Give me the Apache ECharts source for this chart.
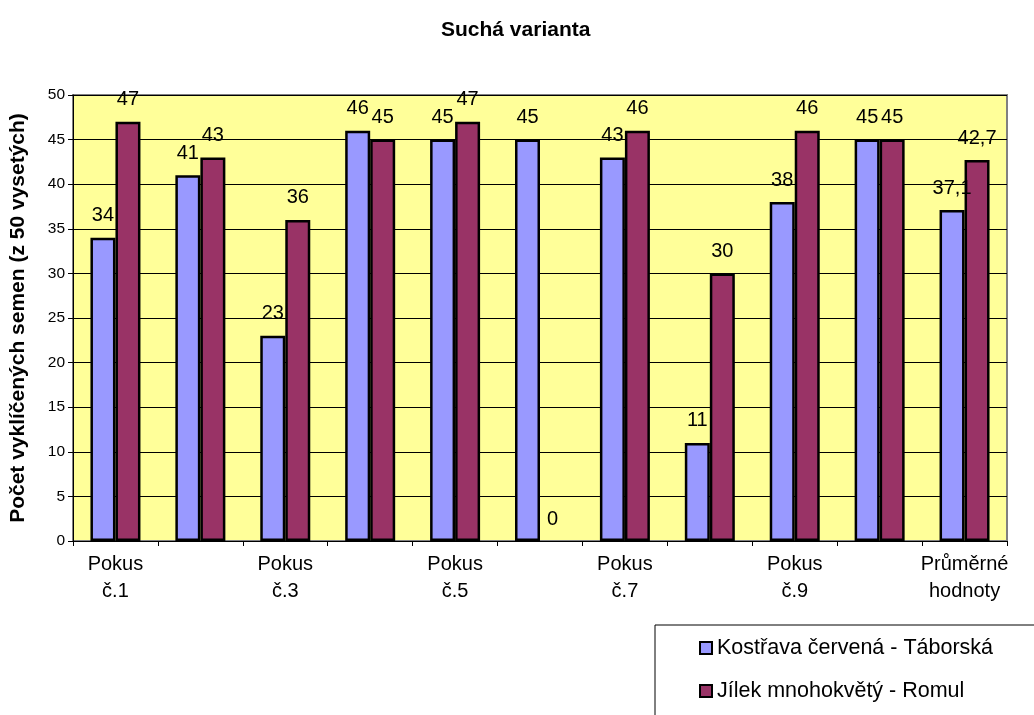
<!DOCTYPE html>
<html>
<head>
<meta charset="utf-8">
<script src="https://cdn.jsdelivr.net/npm/echarts@6/dist/echarts.min.js"></script>
<style>
  html, body { margin: 0; padding: 0; background: #fff; }
  #chart { width: 1034px; height: 715px; }
</style>
</head>
<body>
<div id="chart"></div>
<script>
// Germination trials, dry variant
const categories = ['Pokus č.1', 'Pokus č.2', 'Pokus č.3', 'Pokus č.4', 'Pokus č.5', 'Pokus č.6',
  'Pokus č.7', 'Pokus č.8', 'Pokus č.9', 'Pokus č.10', 'Průměrné hodnoty'];
const kostrava = [34, 41, 23, 46, 45, 45, 43, 11, 38, 45, 37.1];
const jilek = [47, 43, 36, 45, 47, 0, 46, 30, 46, 45, 42.7];
const seriesNames = ['Kostřava červená - Táborská', 'Jílek mnohokvětý - Romul'];

const FONT = '"Liberation Sans", Arial, sans-serif';

const chart = echarts.init(document.getElementById('chart'), null, { renderer: 'canvas' });

const barLabel = {
  show: true,
  position: 'top',
  distance: 12,
  color: '#000',
  fontFamily: FONT,
  fontSize: 20,
  formatter: p => String(p.value).replace('.', ',')
};

// zero-height bars get no outline so the baseline stays a thin axis line
const toBarData = values => values.map(v => (v === 0 ? { value: v, itemStyle: { borderWidth: 0 } } : v));

chart.setOption({
  animation: false,
  backgroundColor: '#fff',
  title: {
    text: 'Suchá varianta',
    left: 436,
    top: 15,
    textStyle: { fontFamily: FONT, fontSize: 21, fontWeight: 'bold', color: '#000' }
  },
  grid: {
    left: 71, right: 27, top: 95, bottom: 174,
    show: true,
    backgroundColor: '#FFFF99',
    borderColor: '#808080',
    borderWidth: 2
  },
  legend: {
    orient: 'vertical',
    left: 699,
    top: 637,
    itemGap: 21,
    itemWidth: 12,
    itemHeight: 12,
    icon: 'rect',
    padding: 0,
    textStyle: { fontFamily: FONT, fontSize: 21.5, color: '#000' },
    data: seriesNames
  },
  graphic: [{
    type: 'rect',
    z: -1,
    shape: { x: 655, y: 625, width: 420, height: 120 },
    style: { fill: '#fff', stroke: '#000', lineWidth: 1 }
  }],
  xAxis: {
    type: 'category',
    data: categories,
    axisLine: { lineStyle: { color: '#000', width: 1 } },
    axisTick: { show: true, interval: 0, length: 5, lineStyle: { color: '#000' } },
    axisLabel: {
      interval: 1,
      margin: 10,
      color: '#000',
      fontFamily: FONT,
      fontSize: 20,
      lineHeight: 27,
      formatter: v => v.replace(' ', '\n')
    },
    splitLine: { show: false }
  },
  yAxis: {
    type: 'value',
    min: 0,
    max: 50,
    interval: 5,
    name: 'Počet vyklíčených semen (z 50 vysetých)',
    nameLocation: 'middle',
    nameGap: 44,
    nameTextStyle: { fontFamily: FONT, fontSize: 21, fontWeight: 'bold', color: '#000' },
    axisLine: { show: true, lineStyle: { color: '#000', width: 1 } },
    axisTick: { show: true, length: 5, lineStyle: { color: '#000' } },
    axisLabel: { margin: 8, color: '#000', fontFamily: FONT, fontSize: 15.5 },
    splitLine: { show: true, lineStyle: { color: '#000', width: 1 } }
  },
  series: [
    {
      name: seriesNames[0],
      type: 'bar',
      data: toBarData(kostrava),
      barWidth: 25,
      barGap: '0%',
      itemStyle: { color: '#9999FF', borderColor: '#000', borderWidth: 2.5 },
      label: barLabel
    },
    {
      name: seriesNames[1],
      type: 'bar',
      data: toBarData(jilek),
      barWidth: 25,
      barGap: '0%',
      itemStyle: { color: '#993366', borderColor: '#000', borderWidth: 2.5 },
      label: barLabel
    }
  ]
});
</script>
</body>
</html>
